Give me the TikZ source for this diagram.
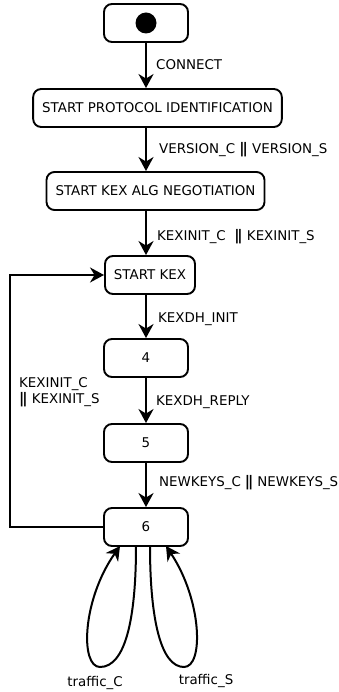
\documentclass[tikz,border=0pt]{standalone}
\usepackage{fontspec}
\setmainfont{DejaVu Sans}
\usetikzlibrary{arrows.meta, positioning}

\newcommand{\barbar}{{\fontsize{14.5}{15}\selectfont\bfseries|\kern-2.2pt|}}

\begin{document}
\begin{tikzpicture}[
    x=1pt, y=1pt,
    font=\fontsize{13.4}{16}\selectfont,
    state/.style={rectangle, rounded corners=8pt, minimum width=84pt, minimum height=38pt, inner xsep=9pt, text centered, draw, line width=1.9pt},
    trans/.style={anchor=west, inner sep=0pt},
    arrow/.style={line width=2pt, -{Stealth[length=14pt, width=15pt, inset=4.5pt]}}
]
\useasboundingbox (0,0) rectangle (339,-692);

% States
\node (init) [state] at (146,-23) {};
\node [circle, fill, inner sep=0pt, minimum size=21pt] at (init) {};
\node (spi) [state] at (157.5,-108) {START PROTOCOL IDENTIFICATION};
\node (skan) [state] at (155.5,-191) {START KEX ALG NEGOTIATION};
\node (startkex) [state] at (150,-275) {START KEX};
\node (n4) [state] at (146,-358) {4};
\node (n5) [state] at (146,-443) {5};
\node (n6) [state] at (146,-527) {6};

% Transitions
\draw [arrow] (init) -- (init |- spi.north);
\draw [arrow] (spi.south -| init) -- (init |- skan.north);
\draw [arrow] (skan.south -| init) -- (init |- startkex.north);
\draw [arrow] (startkex.south -| n4) -- (n4);
\draw [arrow] (n4) -- (n5);
\draw [arrow] (n5) -- (n6);

\node [trans] at (156,-65) {CONNECT};
\node [trans] at (159,-150) {VERSION\_C \barbar{} VERSION\_S};
\node [trans] at (157,-237) {KEXINIT\_C\ \ \barbar{} KEXINIT\_S};
\node [trans] at (158,-319) {KEXDH\_INIT};
\node [trans] at (156,-402) {KEXDH\_REPLY};
\node [trans] at (159,-483) {NEWKEYS\_C\hspace{4pt}\barbar\hspace{4pt}NEWKEYS\_S};

% Rekey loop
\coordinate (loopcorner) at (10,-527);
\draw [arrow] (n6.west) -- (loopcorner) |- (startkex.west);
\node [trans, anchor=north west, align=left] at (19,-377) {KEXINIT\_C\\\barbar{} KEXINIT\_S};

% Traffic self loops
\draw [arrow] (136,-546) .. controls (136,-620) and (125,-667) .. (100,-667)
    .. controls (80,-667) and (82,-600) .. (120,-546);
\draw [arrow] (150,-546) .. controls (150,-620) and (161,-667) .. (184,-667)
    .. controls (204,-667) and (202,-600) .. (166,-546);
\node (trafficc) at (95,-683) {traffic\_C};
\node (traffics) at (206,-681) {traffic\_S};

\end{tikzpicture}
\end{document}
